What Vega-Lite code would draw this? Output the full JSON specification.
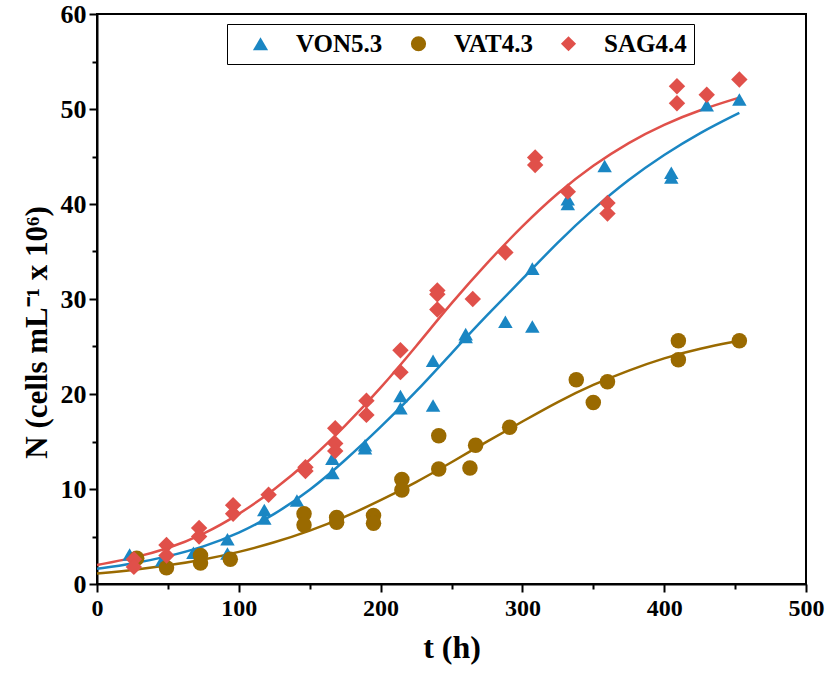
{
  "$schema": "https://vega.github.io/schema/vega-lite/v6.json",
  "autosize": {"type": "none"},
  "padding": {"left": 97, "top": 14, "right": 20, "bottom": 93},
  "width": 709,
  "height": 570,
  "background": "white",
  "config": {
    "view": {"stroke": "black", "strokeWidth": 2},
    "font": "Liberation Serif",
    "axis": {
      "labelFont": "Liberation Serif", "labelFontWeight": "bold", "labelFontSize": 24, "labelColor": "black",
      "titleFont": "Liberation Serif", "titleFontWeight": "bold", "titleFontSize": 32, "titleColor": "black",
      "domainColor": "black", "domainWidth": 2, "tickColor": "black", "tickWidth": 2, "grid": false
    }
  },
  "datasets": {
    "pts": [
      {"s":"VON5.3","t":23,"n":3.1},{"s":"VON5.3","t":46,"n":2.5},{"s":"VON5.3","t":68,"n":3.3},{"s":"VON5.3","t":92,"n":4.7},{"s":"VON5.3","t":92,"n":3.2},
      {"s":"VON5.3","t":118,"n":7.8},{"s":"VON5.3","t":118,"n":6.9},{"s":"VON5.3","t":141,"n":8.8},{"s":"VON5.3","t":166,"n":13.2},{"s":"VON5.3","t":166,"n":11.7},
      {"s":"VON5.3","t":189,"n":14.6},{"s":"VON5.3","t":189,"n":14.3},{"s":"VON5.3","t":214,"n":19.8},{"s":"VON5.3","t":214,"n":18.5},{"s":"VON5.3","t":237,"n":23.5},
      {"s":"VON5.3","t":237,"n":18.8},{"s":"VON5.3","t":260,"n":26.3},{"s":"VON5.3","t":260,"n":26.0},{"s":"VON5.3","t":288,"n":27.6},{"s":"VON5.3","t":307,"n":33.2},
      {"s":"VON5.3","t":307,"n":27.1},{"s":"VON5.3","t":332,"n":40.5},{"s":"VON5.3","t":332,"n":40.0},{"s":"VON5.3","t":358,"n":44.0},{"s":"VON5.3","t":405,"n":43.3},
      {"s":"VON5.3","t":405,"n":42.8},{"s":"VON5.3","t":430,"n":50.4},{"s":"VON5.3","t":453,"n":51.0},
      {"s":"VAT4.3","t":28,"n":2.7},{"s":"VAT4.3","t":49,"n":1.7},{"s":"VAT4.3","t":73,"n":3.0},{"s":"VAT4.3","t":73,"n":2.2},{"s":"VAT4.3","t":94,"n":2.6},
      {"s":"VAT4.3","t":146,"n":7.4},{"s":"VAT4.3","t":146,"n":6.2},{"s":"VAT4.3","t":169,"n":7.0},{"s":"VAT4.3","t":169,"n":6.5},{"s":"VAT4.3","t":195,"n":7.2},
      {"s":"VAT4.3","t":195,"n":6.4},{"s":"VAT4.3","t":215,"n":11.0},{"s":"VAT4.3","t":215,"n":9.9},{"s":"VAT4.3","t":241,"n":15.6},{"s":"VAT4.3","t":241,"n":12.1},
      {"s":"VAT4.3","t":263,"n":12.2},{"s":"VAT4.3","t":267,"n":14.6},{"s":"VAT4.3","t":291,"n":16.5},{"s":"VAT4.3","t":338,"n":21.5},{"s":"VAT4.3","t":350,"n":19.1},
      {"s":"VAT4.3","t":360,"n":21.3},{"s":"VAT4.3","t":410,"n":25.6},{"s":"VAT4.3","t":410,"n":23.6},{"s":"VAT4.3","t":453,"n":25.6},
      {"s":"SAG4.4","t":26,"n":2.6},{"s":"SAG4.4","t":26,"n":1.8},{"s":"SAG4.4","t":49,"n":4.1},{"s":"SAG4.4","t":49,"n":3.0},{"s":"SAG4.4","t":72,"n":5.9},
      {"s":"SAG4.4","t":72,"n":5.0},{"s":"SAG4.4","t":96,"n":8.3},{"s":"SAG4.4","t":96,"n":7.4},{"s":"SAG4.4","t":121,"n":9.4},{"s":"SAG4.4","t":147,"n":12.3},
      {"s":"SAG4.4","t":147,"n":11.9},{"s":"SAG4.4","t":168,"n":16.4},{"s":"SAG4.4","t":168,"n":14.8},{"s":"SAG4.4","t":168,"n":14.0},{"s":"SAG4.4","t":190,"n":19.3},
      {"s":"SAG4.4","t":190,"n":17.8},{"s":"SAG4.4","t":214,"n":24.6},{"s":"SAG4.4","t":214,"n":22.3},{"s":"SAG4.4","t":240,"n":30.9},{"s":"SAG4.4","t":240,"n":30.5},
      {"s":"SAG4.4","t":240,"n":28.9},{"s":"SAG4.4","t":265,"n":30.0},{"s":"SAG4.4","t":288,"n":34.9},{"s":"SAG4.4","t":309,"n":44.9},{"s":"SAG4.4","t":309,"n":44.1},
      {"s":"SAG4.4","t":332,"n":41.3},{"s":"SAG4.4","t":360,"n":40.1},{"s":"SAG4.4","t":360,"n":39.0},{"s":"SAG4.4","t":409,"n":52.4},{"s":"SAG4.4","t":409,"n":50.6},
      {"s":"SAG4.4","t":430,"n":51.5},{"s":"SAG4.4","t":453,"n":53.1}
    ],
    "fits": [
      {"s":"VON5.3","t":0,"n":1.6},{"s":"VON5.3","t":25,"n":2.1},{"s":"VON5.3","t":50,"n":2.9},{"s":"VON5.3","t":75,"n":3.9},{"s":"VON5.3","t":100,"n":5.3},
      {"s":"VON5.3","t":125,"n":7.3},{"s":"VON5.3","t":150,"n":9.8},{"s":"VON5.3","t":175,"n":13.0},{"s":"VON5.3","t":200,"n":16.5},{"s":"VON5.3","t":225,"n":20.2},
      {"s":"VON5.3","t":250,"n":24.3},{"s":"VON5.3","t":275,"n":28.3},{"s":"VON5.3","t":300,"n":32.1},{"s":"VON5.3","t":325,"n":36.0},{"s":"VON5.3","t":350,"n":39.5},
      {"s":"VON5.3","t":375,"n":42.6},{"s":"VON5.3","t":400,"n":45.2},{"s":"VON5.3","t":425,"n":47.5},{"s":"VON5.3","t":453,"n":49.6},
      {"s":"VAT4.3","t":0,"n":1.1},{"s":"VAT4.3","t":25,"n":1.46},{"s":"VAT4.3","t":50,"n":1.94},{"s":"VAT4.3","t":75,"n":2.56},{"s":"VAT4.3","t":100,"n":3.35},
      {"s":"VAT4.3","t":125,"n":4.35},{"s":"VAT4.3","t":150,"n":5.58},{"s":"VAT4.3","t":175,"n":7.05},{"s":"VAT4.3","t":200,"n":8.79},{"s":"VAT4.3","t":225,"n":10.7},
      {"s":"VAT4.3","t":250,"n":12.8},{"s":"VAT4.3","t":275,"n":15.0},{"s":"VAT4.3","t":300,"n":17.1},{"s":"VAT4.3","t":325,"n":19.2},{"s":"VAT4.3","t":350,"n":21.0},
      {"s":"VAT4.3","t":375,"n":22.5},{"s":"VAT4.3","t":400,"n":23.8},{"s":"VAT4.3","t":425,"n":24.8},{"s":"VAT4.3","t":453,"n":25.6},
      {"s":"SAG4.4","t":0,"n":2.0},{"s":"SAG4.4","t":25,"n":2.7},{"s":"SAG4.4","t":50,"n":3.7},{"s":"SAG4.4","t":75,"n":5.2},{"s":"SAG4.4","t":100,"n":7.3},
      {"s":"SAG4.4","t":125,"n":9.9},{"s":"SAG4.4","t":150,"n":13.0},{"s":"SAG4.4","t":175,"n":16.6},{"s":"SAG4.4","t":200,"n":20.6},{"s":"SAG4.4","t":225,"n":25.0},
      {"s":"SAG4.4","t":250,"n":29.6},{"s":"SAG4.4","t":275,"n":33.8},{"s":"SAG4.4","t":300,"n":37.7},{"s":"SAG4.4","t":325,"n":41.2},{"s":"SAG4.4","t":350,"n":44.1},
      {"s":"SAG4.4","t":375,"n":46.5},{"s":"SAG4.4","t":400,"n":48.4},{"s":"SAG4.4","t":425,"n":49.9},{"s":"SAG4.4","t":453,"n":51.2}
    ]
  },
  "encoding": {
    "x": {"field": "t", "type": "quantitative", "scale": {"domain": [0, 500], "nice": false},
      "axis": {"title": "t (h)", "values": [0,50,100,150,200,250,300,350,400,450,500],
        "labelExpr": "datum.value % 100 === 0 ? datum.label : ''",
        "tickSize": {"condition": {"test": "datum.value % 100 === 0", "value": 8}, "value": 5},
        "labelPadding": 4, "titlePadding": 12, "labelFlush": false, "labelOverlap": false}},
    "y": {"field": "n", "type": "quantitative", "scale": {"domain": [0, 60], "nice": false},
      "axis": {"title": "N (cells mL⁻¹ x 10⁶)", "values": [0,5,10,15,20,25,30,35,40,45,50,55,60],
        "labelExpr": "datum.value % 10 === 0 ? datum.label : ''",
        "tickSize": {"condition": {"test": "datum.value % 10 === 0", "value": 8}, "value": 5},
        "labelFontSize": 26, "titleFontSize": 31, "titleY": 318,
        "labelPadding": 3, "titlePadding": 7, "labelFlush": false, "labelOverlap": false}}
  },
  "layer": [
    {
      "data": {"name": "fits"},
      "mark": {"type": "line", "strokeWidth": 2.5, "interpolate": "basis"},
      "encoding": {
        "stroke": {"field": "s", "type": "nominal", "legend": null,
          "scale": {"domain": ["SAG4.4", "VAT4.3", "VON5.3"], "range": ["#E0504A", "#9A6A00", "#1A86C3"]}}
      }
    },
    {
      "data": {"name": "pts"},
      "mark": {"type": "point", "filled": true, "opacity": 1},
      "encoding": {
        "size": {"field": "s", "type": "nominal", "legend": null,
          "scale": {"domain": ["SAG4.4", "VAT4.3", "VON5.3"], "range": [270, 210, 290]}},
        "color": {"field": "s", "type": "nominal",
          "scale": {"domain": ["VON5.3", "VAT4.3", "SAG4.4"], "range": ["#1A86C3", "#9A6A00", "#E0504A"]},
          "legend": {"title": null, "orient": "none", "legendX": 130, "legendY": 10, "direction": "horizontal",
            "strokeColor": "black", "fillColor": "white", "padding": 7, "columnPadding": 9,
            "labelFont": "Liberation Serif", "labelFontWeight": "bold", "labelFontSize": 25, "labelColor": "black",
            "symbolSize": 230, "symbolOpacity": 1, "symbolOffset": 14, "labelOffset": 23}},
        "shape": {"field": "s", "type": "nominal",
          "scale": {"domain": ["VON5.3", "VAT4.3", "SAG4.4"], "range": ["triangle-up", "circle", "diamond"]}}
      }
    }
  ]
}
